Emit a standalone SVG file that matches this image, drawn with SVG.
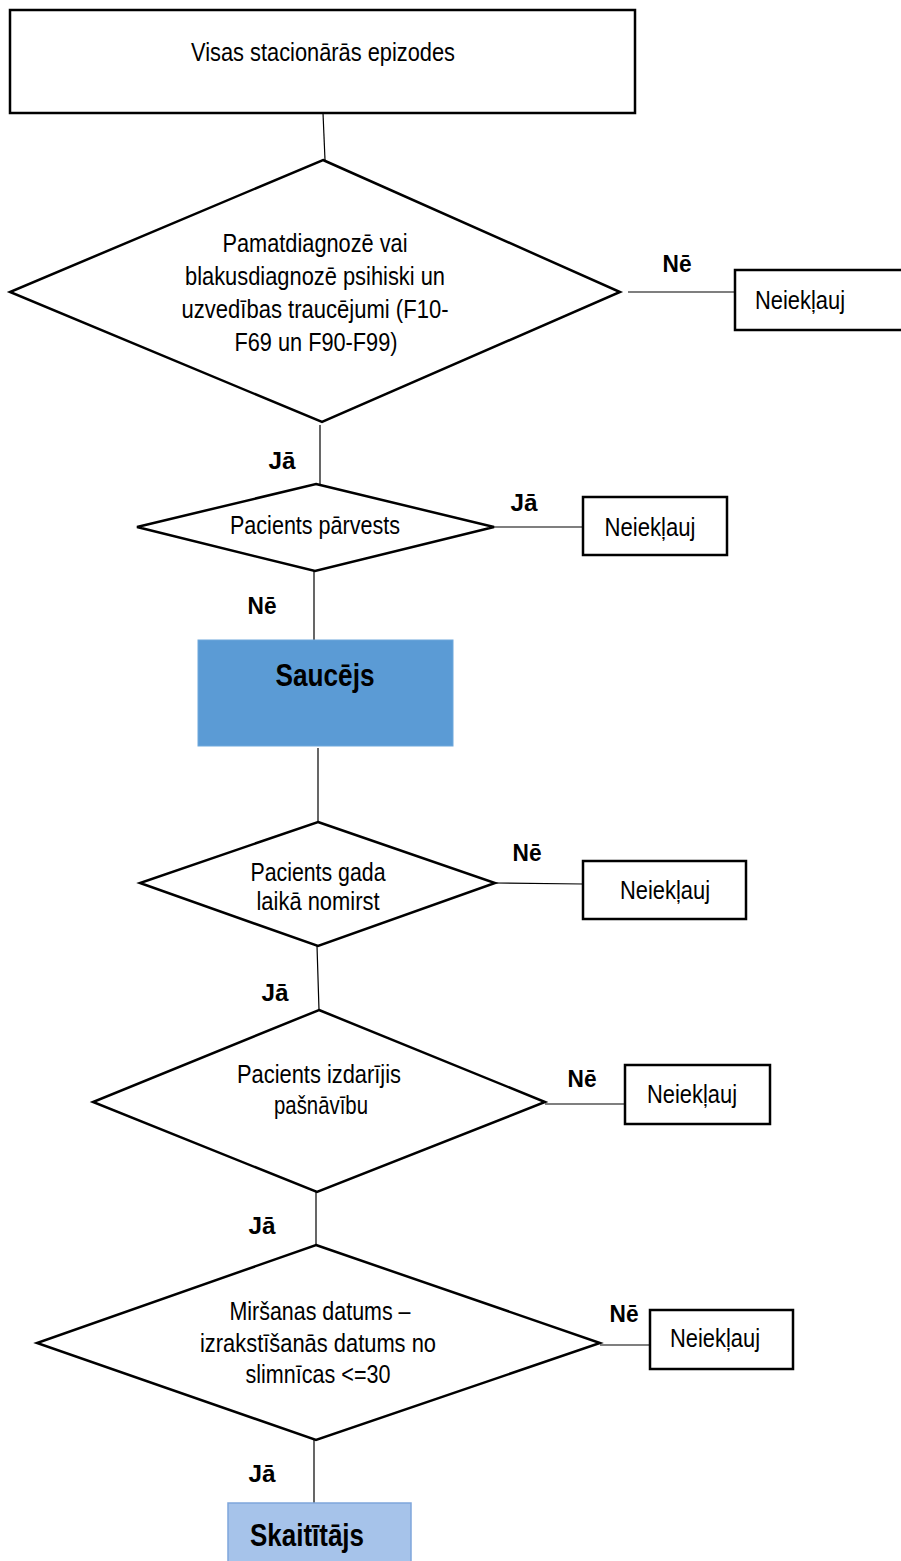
<svg xmlns="http://www.w3.org/2000/svg" width="901" height="1561" viewBox="0 0 901 1561">
<style>
.box{fill:#fff;stroke:#000;stroke-width:2.5}
.dia{fill:#fff;stroke:#000;stroke-width:2.5}
.t{font-family:"Liberation Sans Narrow","Liberation Sans",Arial,sans-serif;font-size:26px;fill:#000;text-anchor:middle}
.b{font-family:"Liberation Sans Narrow","Liberation Sans",Arial,sans-serif;font-size:23px;font-weight:bold;fill:#000;text-anchor:middle}
.bb{font-family:"Liberation Sans Narrow","Liberation Sans",Arial,sans-serif;font-size:31px;font-weight:bold;fill:#000;text-anchor:middle}
.c{stroke:#000;stroke-width:1.2;fill:none}
</style>
<rect width="901" height="1561" fill="#fff"/>
<g id="connectors">
<line class="c" x1="323" y1="113" x2="325" y2="160"/>
<line class="c" x1="628" y1="292" x2="735" y2="292"/>
<line class="c" x1="320" y1="425" x2="320" y2="484"/>
<line class="c" x1="494" y1="527" x2="583" y2="527"/>
<line class="c" x1="314" y1="571" x2="314" y2="640"/>
<line class="c" x1="318" y1="748" x2="318" y2="822"/>
<line class="c" x1="495" y1="883" x2="583" y2="884"/>
<line class="c" x1="317" y1="946" x2="319" y2="1010"/>
<line class="c" x1="545" y1="1104" x2="625" y2="1104"/>
<line class="c" x1="316" y1="1192" x2="316" y2="1245"/>
<line class="c" x1="600" y1="1345" x2="650" y2="1345"/>
<line class="c" x1="314" y1="1440" x2="314" y2="1503"/>
<text class="b" x="677" y="272" textLength="29" lengthAdjust="spacingAndGlyphs">Nē</text>
<text class="b" x="282" y="469" textLength="27" lengthAdjust="spacingAndGlyphs">Jā</text>
<text class="b" x="524" y="511" textLength="27" lengthAdjust="spacingAndGlyphs">Jā</text>
<text class="b" x="262" y="614" textLength="29" lengthAdjust="spacingAndGlyphs">Nē</text>
<text class="b" x="527" y="861" textLength="29" lengthAdjust="spacingAndGlyphs">Nē</text>
<text class="b" x="275" y="1001" textLength="27" lengthAdjust="spacingAndGlyphs">Jā</text>
<text class="b" x="582" y="1087" textLength="29" lengthAdjust="spacingAndGlyphs">Nē</text>
<text class="b" x="262" y="1234" textLength="27" lengthAdjust="spacingAndGlyphs">Jā</text>
<text class="b" x="624" y="1322" textLength="29" lengthAdjust="spacingAndGlyphs">Nē</text>
<text class="b" x="262" y="1482" textLength="27" lengthAdjust="spacingAndGlyphs">Jā</text>
</g>
<g id="start">
<rect class="box" x="10" y="10" width="625" height="103"/>
<text class="t" x="323" y="61" textLength="264" lengthAdjust="spacingAndGlyphs">Visas stacionārās epizodes</text>
</g>
<g id="d1">
<polygon class="dia" points="323,160 620,292 322,422 10,292"/>
<text class="t" x="315" y="252" textLength="185" lengthAdjust="spacingAndGlyphs">Pamatdiagnozē vai</text>
<text class="t" x="315" y="285" textLength="260" lengthAdjust="spacingAndGlyphs">blakusdiagnozē psihiski un</text>
<text class="t" x="315" y="318" textLength="267" lengthAdjust="spacingAndGlyphs">uzvedības traucējumi (F10-</text>
<text class="t" x="316" y="351" textLength="163" lengthAdjust="spacingAndGlyphs">F69 un F90-F99)</text>
</g>
<g id="n1">
<rect class="box" x="735" y="270" width="170" height="60"/>
<text class="t" x="800" y="309" textLength="90" lengthAdjust="spacingAndGlyphs">Neiekļauj</text>
</g>
<g id="d2">
<polygon class="dia" points="316,484 494,527 315,571 137,527"/>
<text class="t" x="315" y="534" textLength="170" lengthAdjust="spacingAndGlyphs">Pacients pārvests</text>
</g>
<g id="n2">
<rect class="box" x="583" y="497" width="144" height="58"/>
<text class="t" x="650" y="536" textLength="91" lengthAdjust="spacingAndGlyphs">Neiekļauj</text>
</g>
<g id="saucejs">
<rect x="198" y="640" width="255" height="106" fill="#5B9BD5" stroke="#6FA8DC" stroke-width="1"/>
<text class="bb" x="325" y="686" textLength="99" lengthAdjust="spacingAndGlyphs">Saucējs</text>
</g>
<g id="d3">
<polygon class="dia" points="318,822 495,883 318,946 140,883"/>
<text class="t" x="318" y="881" textLength="135" lengthAdjust="spacingAndGlyphs">Pacients gada</text>
<text class="t" x="318" y="910" textLength="123" lengthAdjust="spacingAndGlyphs">laikā nomirst</text>
</g>
<g id="n3">
<rect class="box" x="583" y="861" width="163" height="58"/>
<text class="t" x="665" y="899" textLength="90" lengthAdjust="spacingAndGlyphs">Neiekļauj</text>
</g>
<g id="d4">
<polygon class="dia" points="319,1010 545,1102 317,1192 93,1102"/>
<text class="t" x="319" y="1083" textLength="164" lengthAdjust="spacingAndGlyphs">Pacients izdarījis</text>
<text class="t" x="321" y="1114" textLength="94" lengthAdjust="spacingAndGlyphs">pašnāvību</text>
</g>
<g id="n4">
<rect class="box" x="625" y="1065" width="145" height="59"/>
<text class="t" x="692" y="1103" textLength="90" lengthAdjust="spacingAndGlyphs">Neiekļauj</text>
</g>
<g id="d5">
<polygon class="dia" points="316,1245 600,1343 316,1440 37,1343"/>
<text class="t" x="320" y="1320" textLength="181" lengthAdjust="spacingAndGlyphs">Miršanas datums –</text>
<text class="t" x="318" y="1352" textLength="236" lengthAdjust="spacingAndGlyphs">izrakstīšanās datums no</text>
<text class="t" x="318" y="1383" textLength="145" lengthAdjust="spacingAndGlyphs">slimnīcas &lt;=30</text>
</g>
<g id="n5">
<rect class="box" x="650" y="1310" width="143" height="59"/>
<text class="t" x="715" y="1347" textLength="90" lengthAdjust="spacingAndGlyphs">Neiekļauj</text>
</g>
<g id="skaititajs">
<rect x="228" y="1503" width="183" height="70" fill="#A6C3EA" stroke="#7FA6DB" stroke-width="1.5"/>
<text class="bb" x="307" y="1546" textLength="114" lengthAdjust="spacingAndGlyphs">Skaitītājs</text>
</g>
</svg>
